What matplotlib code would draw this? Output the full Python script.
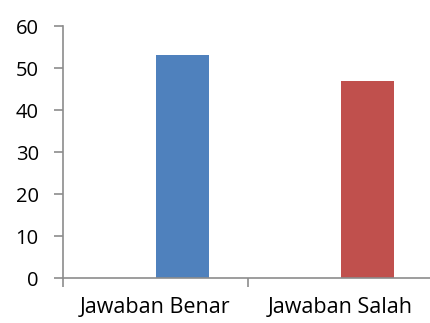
import matplotlib
matplotlib.use("Agg")
import matplotlib.pyplot as plt

kategori = ["Jawaban Benar", "Jawaban Salah"]
nilai = [53, 47]
warna = ["#4F81BD", "#C0504D"]

plt.rcParams['font.family'] = ['Open Sans', 'DejaVu Sans']

fig = plt.figure(figsize=(4.3, 3.23), dpi=100)
ax = fig.add_axes([63 / 430, 1 - 278 / 323, 370 / 430, 252 / 323])

posisi = list(range(len(kategori)))
# batang sedikit bergeser ke kanan dalam kategorinya (seperti di Excel)
geser = 0.146
ax.bar([p + geser for p in posisi], nilai, width=0.286, color=warna)

ax.set_xlim(-0.5, len(kategori) - 0.5)
ax.set_ylim(0, 60)
ax.set_yticks(range(0, 61, 10))

# tick kategori di batas antar kategori, label di tengah
ax.set_xticks([-0.5, 0.5, 1.5])
ax.set_xticklabels([])
ax.set_xticks(posisi, minor=True)
ax.set_xticklabels(kategori, minor=True)
ax.tick_params(axis='x', which='minor', length=0, pad=14, labelsize=15.5, colors='black')
ax.tick_params(axis='x', which='major', length=6.5, width=1.2, color='#8c8c8c')
ax.tick_params(axis='y', length=6.5, width=1.2, color='#8c8c8c', pad=11, labelsize=14.5)

for s in ['top', 'right']:
    ax.spines[s].set_visible(False)
for s in ['left', 'bottom']:
    ax.spines[s].set_color('#8c8c8c')
    ax.spines[s].set_linewidth(1.2)

fig.savefig("out.png", dpi=100)
